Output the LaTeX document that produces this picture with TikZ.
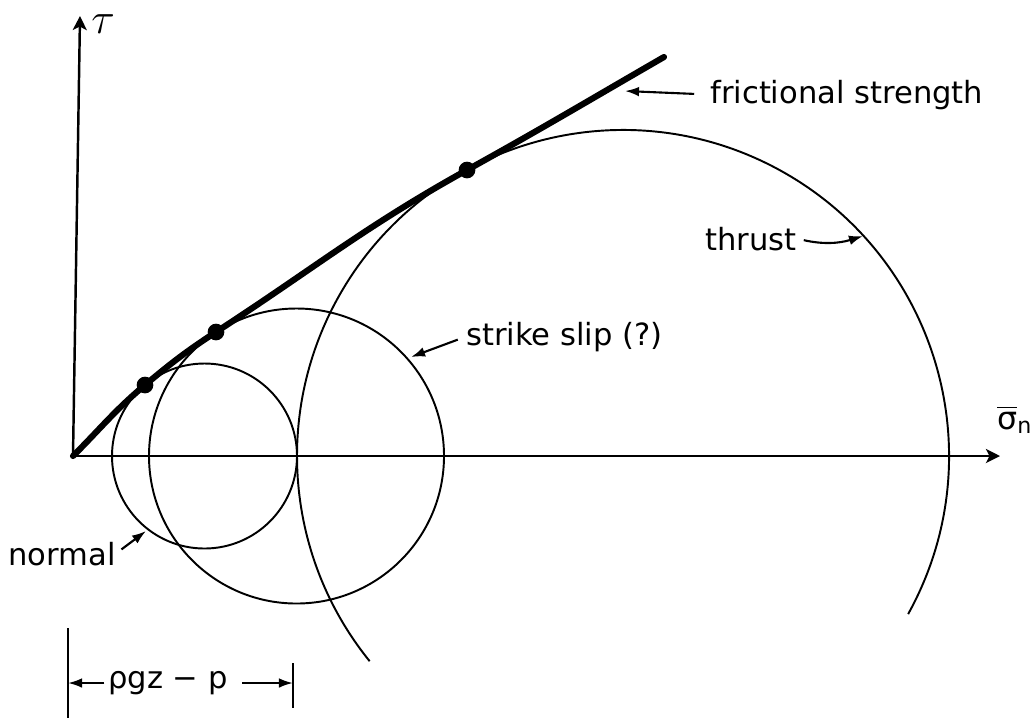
\documentclass[tikz,border=0pt]{standalone}
\usepackage{amsmath}
\usepackage{fontspec}
\setmainfont{DejaVu Sans}
\usepackage{tikz}
\usetikzlibrary{arrows.meta,positioning}

\begin{document}
\begin{tikzpicture}[x=0.02cm,y=-0.02cm,
  lbl/.style={font=\fontsize{17.4}{20}\selectfont, inner sep=0pt},
  circ/.style={line width=1.1pt},
  axis/.style={line width=1.4pt,-{Stealth[length=8pt,width=8pt,inset=2pt]}},
  ptr/.style={line width=1.2pt,-{Latex[length=8pt,width=5.5pt]},shorten <=5pt},
  dot/.style={circle,fill=black,inner sep=0pt,minimum size=9.5pt}]
\useasboundingbox (0,0) rectangle (1033,718);
% axes
\coordinate (O) at (73,456);
\coordinate (ytip) at (80,16);
\coordinate (xtip) at (1000,456);
\draw[axis] (O) -- (ytip);
\draw[axis] (O) -- (xtip);
\node[font=\fontsize{24}{26}\selectfont,inner sep=0pt] (tau) at (103,24) {$\tau$};
\node[font=\fontsize{18}{20}\selectfont,inner sep=0pt,anchor=west] (sig) at (997,420)
  {$\overline{\text{σ}}_{\text{n}}$};
% Mohr circles
\coordinate (cN) at (204.5,456);
\coordinate (cS) at (296.5,456);
\coordinate (cT) at (623,456);
\draw[circ] (cN) circle (92.5);
\draw[circ] (cS) circle (147.5);
\draw[circ] (cT) ++(29:326) arc[start angle=29,end angle=-219,radius=326];
% frictional strength, tangent to the circles
\node[dot] (d1) at (145,385) {};
\node[dot] (d2) at (216,332) {};
\node[dot] (d3) at (467,170) {};
\coordinate (fend) at (664,57);
\draw[line width=3.5pt,line cap=round] (O) to[out=45,in=-140] (d1.center)
  to[out=40,in=-147] (d2.center) to[out=33,in=-151] (d3.center)
  to[out=29,in=-150] (fend);
% labels
\node[lbl,anchor=base west] (fric) at (710,103) {frictional strength};
\coordinate (fricTip) at (625,91);
\draw[ptr,shorten <=9pt] (fric.west) -- (fricTip);
\node[lbl,anchor=base west] (thrust) at (705,250) {thrust};
\coordinate (thrustTip) at (863,236);
\draw[ptr,shorten <=4pt] (thrust.east) to[bend right=15] (thrustTip);
\node[lbl,anchor=base west] (strike) at (466,345) {strike slip (?)};
\coordinate (strikeTip) at (411,357);
\draw[ptr] (strike.west) -- (strikeTip);
\node[lbl,anchor=base west] (normal) at (8,565) {normal};
\coordinate (normalTip) at (146,531);
\draw[ptr,shorten <=4pt] (normal.east) -- (normalTip);
% effective overburden
\coordinate (tickL) at (68,683);
\coordinate (tickR) at (293,683);
\draw[line width=1.2pt] (68,628) -- (68,718);
\draw[line width=1.2pt] (293,663) -- (293,708);
\node[lbl] (depth) at (168,683) {ρgz − p};
\draw[ptr,shorten <=2pt] (depth.west) -- (tickL);
\draw[ptr,shorten <=8pt] (depth.east) -- (tickR);
\end{tikzpicture}
\end{document}
